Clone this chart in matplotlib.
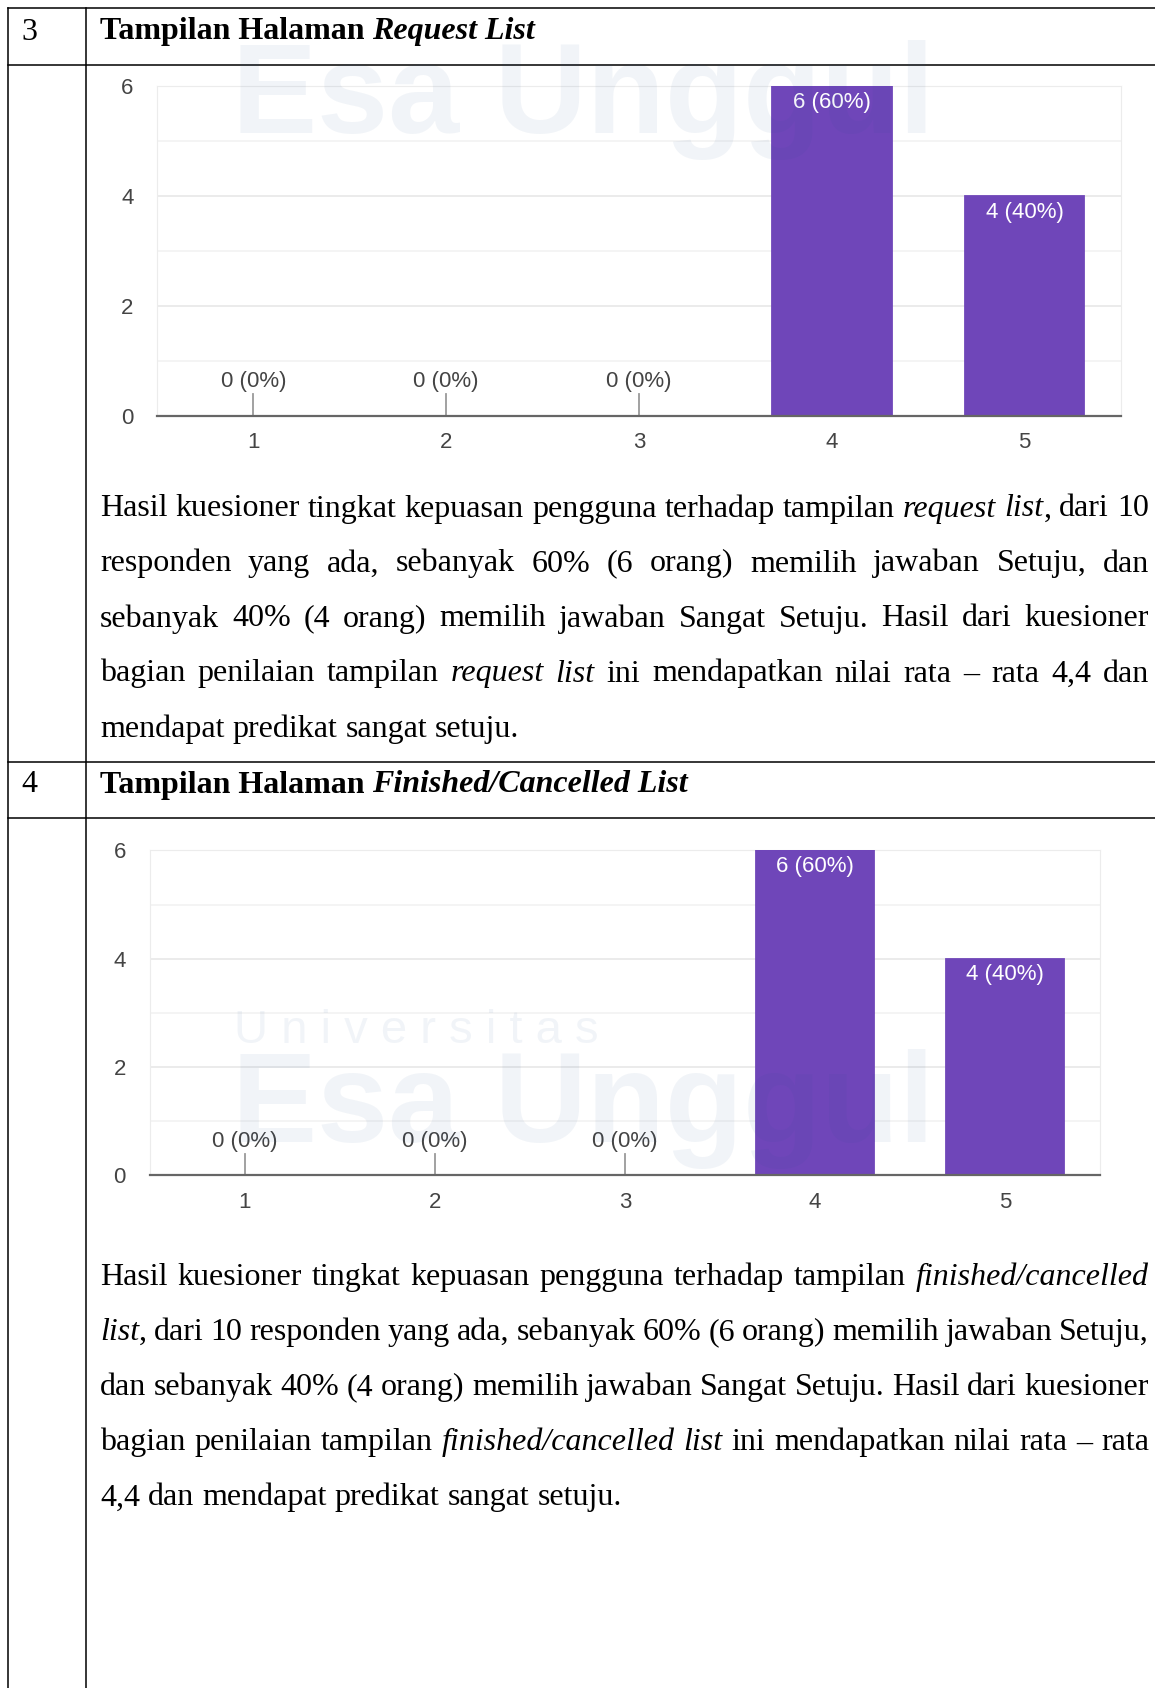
import matplotlib
matplotlib.use("Agg")
import matplotlib.pyplot as plt
import numpy as np

# survey answers (scale 1..5), 10 respondents per question
categories = [1, 2, 3, 4, 5]
request_counts = [0, 0, 0, 6, 4]
finished_counts = [0, 0, 0, 6, 4]
total_respondents = 10
y_ticks = [0, 2, 4, 6]

row_numbers = ["3", "4"]
row_titles = [("Tampilan Halaman ", "Request List"),
              ("Tampilan Halaman ", "Finished/Cancelled List")]

# _word_ marks italic
para_request = [
    "Hasil kuesioner tingkat kepuasan pengguna terhadap tampilan _request_ _list_, dari 10",
    "responden yang ada, sebanyak 60% (6 orang) memilih jawaban Setuju, dan",
    "sebanyak 40% (4 orang) memilih jawaban Sangat Setuju. Hasil dari kuesioner",
    "bagian penilaian tampilan _request_ _list_ ini mendapatkan nilai rata – rata 4,4 dan",
    "mendapat predikat sangat setuju.",
]
para_finished = [
    "Hasil kuesioner tingkat kepuasan pengguna terhadap tampilan _finished/cancelled_",
    "_list_, dari 10 responden yang ada, sebanyak 60% (6 orang) memilih jawaban Setuju,",
    "dan sebanyak 40% (4 orang) memilih jawaban Sangat Setuju. Hasil dari kuesioner",
    "bagian penilaian tampilan _finished/cancelled_ _list_ ini mendapatkan nilai rata – rata",
    "4,4 dan mendapat predikat sangat setuju.",
]

W, H = 1155, 1688
purple = "#6f46b9"
serif = "Liberation Serif"
sans = "Liberation Sans"

fig = plt.figure(figsize=(W / 100, H / 100), dpi=100)
page = fig.add_axes([0, 0, 1, 1])
page.set_xlim(0, W)
page.set_ylim(H, 0)
page.axis("off")
renderer = fig.canvas.get_renderer()


def text_width(s, italic=False, weight="normal"):
    t = page.text(0, 0, s, fontsize=23, family=serif,
                  style="italic" if italic else "normal", weight=weight)
    w = t.get_window_extent(renderer).width
    t.remove()
    return w


def draw_line(line, x0, x1, y, justify=True):
    words = []
    for w in line.split(" "):
        parts = w.split("_")
        words.append([(p, i % 2 == 1) for i, p in enumerate(parts) if p])
    widths = [[text_width(p, it) for p, it in wd] for wd in words]
    total = sum(sum(ws) for ws in widths)
    space = text_width("a b") - text_width("ab")
    if justify and len(words) > 1:
        space = (x1 - x0 - total) / (len(words) - 1)
    x = x0
    for wd, ws in zip(words, widths):
        for (p, it), pw in zip(wd, ws):
            page.text(x, y, p, fontsize=23, family=serif,
                      style="italic" if it else "normal", va="baseline", ha="left")
            x += pw
        x += space


def draw_paragraph(lines, x0, x1, y0, step):
    for i, line in enumerate(lines):
        draw_line(line, x0, x1, y0 + i * step, justify=(i < len(lines) - 1))


def draw_title(num, title, y):
    page.text(29, y, num, fontsize=23, family=serif, ha="center", va="center")
    t1 = page.text(100, y, title[0], fontsize=23, family=serif, weight="bold",
                   ha="left", va="center")
    w = t1.get_window_extent(renderer).width
    page.text(100 + w, y, title[1], fontsize=23, family=serif, weight="bold",
              style="italic", ha="left", va="center")


def draw_chart(rect, counts):
    ax = fig.add_axes(rect)
    x = np.array(categories)
    ax.bar(x, counts, width=0.62, color=purple, edgecolor=purple,
           linewidth=1.3, zorder=3)
    ax.set_xlim(0.5, 5.5)
    ax.set_ylim(0, 6)
    ax.set_yticks(y_ticks)
    ax.set_yticks([1, 3, 5], minor=True)
    ax.set_xticks(categories)
    ax.grid(axis="y", which="major", color="#e8e8e8", lw=1.2, zorder=0)
    ax.grid(axis="y", which="minor", color="#f2f2f2", lw=1.2, zorder=0)
    ax.tick_params(which="both", length=0)
    ax.tick_params(axis="y", pad=17, labelsize=16, labelcolor="#444444")
    ax.tick_params(axis="x", pad=12, labelsize=16, labelcolor="#444444")
    for lab in ax.get_xticklabels() + ax.get_yticklabels():
        lab.set_family(sans)
    for s in ["left", "right", "top"]:
        ax.spines[s].set_color("#ececec")
    ax.spines["bottom"].set_color("#666666")
    ax.spines["bottom"].set_linewidth(1.6)
    ax.spines["bottom"].set_zorder(4)
    for xi, c in zip(x, counts):
        label = f"{c} ({c * 100 // total_respondents}%)"
        if c == 0:
            ax.plot([xi, xi], [0, 0.4], color="#9a9a9a", lw=1.3, zorder=4)
            ax.text(xi, 0.62, label, ha="center", va="center", color="#444444",
                    fontsize=16, family=sans)
        else:
            ax.text(xi, c - 0.3, label, ha="center", va="center", color="white",
                    fontsize=16, family=sans, zorder=5)
    return ax


def frac_rect(left, top, right, bottom):
    return [left / W, 1 - bottom / H, (right - left) / W, (bottom - top) / H]


# table lines
lc = dict(color="black", lw=1.1)
page.plot([8, 8], [7.5, H], **lc)
page.plot([86, 86], [7.5, H], **lc)
for yy in [7.5, 64.6, 762, 818]:
    page.plot([8, W], [yy, yy], **lc)

# row 3
draw_title(row_numbers[0], row_titles[0], 32)
draw_chart(frac_rect(157, 86, 1121, 415.5), request_counts)
draw_paragraph(para_request, 100, 1149, 516.5, 55.0)

# row 4
draw_title(row_numbers[1], row_titles[1], 785)
draw_chart(frac_rect(149.6, 850.4, 1100, 1175.4), finished_counts)
draw_paragraph(para_finished, 100, 1149, 1285, 55.1)

# faint watermark
wm = dict(color="#1d4f91", alpha=0.06, family=sans, weight="bold", zorder=10)
fig.text(232 / W, 1 - 100 / H, "Esa Unggul", fontsize=92, va="center", ha="left", **wm)
fig.text(234 / W, 1 - 1031 / H, "U n i v e r s i t a s", fontsize=34, va="center",
         ha="left", color="#1d4f91", alpha=0.06, family=sans, zorder=10)
fig.text(232 / W, 1 - 1109 / H, "Esa Unggul", fontsize=92, va="center", ha="left", **wm)

fig.savefig("out.png", dpi=100)
